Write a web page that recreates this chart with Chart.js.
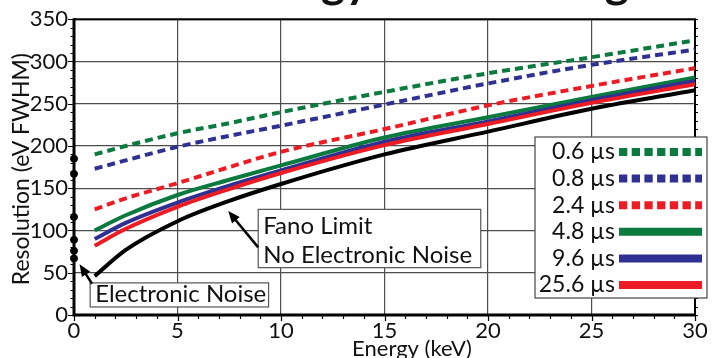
<!DOCTYPE html>
<html>
<head>
<meta charset="utf-8">
<script src="https://cdn.jsdelivr.net/npm/chart.js@4.4.1/dist/chart.umd.min.js"></script>
<style>
  html, body { margin: 0; padding: 0; background: #fff; overflow: hidden; }
  #wrap { width: 715px; height: 358px; }
</style>
</head>
<body>
<div id="wrap"><canvas id="chart" width="715" height="358"></canvas></div>
<script>
const energyKeV = [1, 2.5, 5, 7.5, 10, 15, 20, 25, 30];

// resolution (eV FWHM) per peaking time
const res06 = [190, 200, 215, 227, 240, 264, 286, 305, 325];
const res08 = [173, 183, 199, 212, 224, 249, 274, 296, 314];
const res24 = [125, 138, 156, 175, 193, 220, 248, 271, 292];
const res48 = [100, 118, 142, 160, 177, 210, 234, 258, 281];
const res96 = [90, 109, 133, 153, 171, 205, 229, 254, 277];
const res256 = [82, 102, 128, 149, 168, 201, 226, 251, 273];
const fanoLimit = [46, 77, 111, 135, 155, 190, 217, 244, 266];

// electronic noise points drawn on the y axis
const noiseLevels = [185, 167, 116, 89, 76, 67];

const seriesLabels = ['0.6 µs', '0.8 µs', '2.4 µs', '4.8 µs', '9.6 µs', '25.6 µs'];
const seriesColors = ['#0b7a3e', '#2e3192', '#ed1c24', '#0b7a3e', '#2e3192', '#ed1c24'];
const seriesDotted = [true, true, true, false, false, false];

const xTicks = [0, 5, 10, 15, 20, 25, 30];
const yTicks = [0, 50, 100, 150, 200, 250, 300, 350];

const FONT = 'Lato, "Noto Sans", sans-serif';

function pts(ys) {
  return energyKeV.map((e, i) => ({x: e, y: ys[i]}));
}

const seriesData = [res06, res08, res24, res48, res96, res256];

const datasets = seriesData.map((ys, i) => ({
  label: seriesLabels[i],
  data: pts(ys),
  borderColor: seriesColors[i],
  borderWidth: 4,
  borderDash: seriesDotted[i] ? [8, 5] : [],
  borderCapStyle: 'butt',
  pointRadius: 0,
  fill: false,
  cubicInterpolationMode: 'monotone',
  order: 10 - i
}));

datasets.push({
  label: 'Fano Limit',
  data: pts(fanoLimit),
  borderColor: '#000',
  borderWidth: 4,
  pointRadius: 0,
  fill: false,
  cubicInterpolationMode: 'monotone',
  order: 1
});

datasets.push({
  label: 'Electronic Noise',
  type: 'scatter',
  data: noiseLevels.map(v => ({x: 0, y: v})),
  backgroundColor: '#000',
  borderColor: '#000',
  pointRadius: 3.5,
  showLine: false,
  clip: false,
  order: 0
});

// text boxes and arrows, in data units
const fanoBox = {x0: 8.9, x1: 19.65, y0: 125, y1: 56, lines: ['Fano Limit', 'No Electronic Noise']};
const noiseBox = {x0: 0.78, x1: 9.4, y0: 38, y1: 9.5, lines: ['Electronic Noise']};
const fanoArrow = {from: {x: 8.9, y: 80}, to: {x: 7.45, y: 123}};
const noiseArrow = {from: {x: 0.87, y: 37}, to: {x: 0.27, y: 60}};

function arrow(ctx, x0, y0, x1, y1) {
  const ang = Math.atan2(y1 - y0, x1 - x0);
  const len = 12, w = 5;
  ctx.save();
  ctx.strokeStyle = '#000';
  ctx.fillStyle = '#000';
  ctx.lineWidth = 2.5;
  ctx.beginPath();
  ctx.moveTo(x0, y0);
  ctx.lineTo(x1 - Math.cos(ang) * len * 0.8, y1 - Math.sin(ang) * len * 0.8);
  ctx.stroke();
  ctx.beginPath();
  ctx.moveTo(x1, y1);
  ctx.lineTo(x1 - Math.cos(ang) * len + Math.sin(ang) * w, y1 - Math.sin(ang) * len - Math.cos(ang) * w);
  ctx.lineTo(x1 - Math.cos(ang) * len - Math.sin(ang) * w, y1 - Math.sin(ang) * len + Math.cos(ang) * w);
  ctx.closePath();
  ctx.fill();
  ctx.restore();
}

function textBox(ctx, sx, sy, b, size) {
  const l = sx.getPixelForValue(b.x0), r = sx.getPixelForValue(b.x1);
  const t = sy.getPixelForValue(b.y0), bt = sy.getPixelForValue(b.y1);
  ctx.save();
  ctx.fillStyle = '#fff';
  ctx.fillRect(l, t, r - l, bt - t);
  ctx.strokeStyle = '#555';
  ctx.lineWidth = 1.2;
  ctx.strokeRect(l, t, r - l, bt - t);
  ctx.fillStyle = '#111';
  ctx.font = size + 'px ' + FONT;
  ctx.textAlign = 'left';
  ctx.textBaseline = 'alphabetic';
  const step = (bt - t) / b.lines.length;
  b.lines.forEach((s, i) => ctx.fillText(s, l + 5, t + step * (i + 1) - 5));
  ctx.restore();
}

const frame = {
  id: 'frame',
  beforeDatasetsDraw(chart) {
    const {ctx, chartArea: a, scales: {x, y}} = chart;
    ctx.save();
    ctx.strokeStyle = '#000';
    // ticks
    ctx.lineWidth = 1.2;
    for (let v = 0; v <= 350; v += 10) {
      const py = Math.round(y.getPixelForValue(v)) + 0.5;
      const len = v % 50 === 0 ? 6 : 3.5;
      ctx.beginPath();
      ctx.moveTo(a.left - len, py); ctx.lineTo(a.left, py);
      ctx.moveTo(a.right, py); ctx.lineTo(a.right + 3, py);
      ctx.stroke();
    }
    for (let v = 0; v <= 30; v += 1) {
      const px = Math.round(x.getPixelForValue(v)) + 0.5;
      const len = v % 5 === 0 ? 6 : 4;
      ctx.beginPath();
      ctx.moveTo(px, a.bottom); ctx.lineTo(px, a.bottom + len);
      ctx.stroke();
    }
    // border
    ctx.lineWidth = 2;
    ctx.beginPath();
    ctx.moveTo(a.left, a.top); ctx.lineTo(a.right, a.top); ctx.lineTo(a.right, a.bottom);
    ctx.stroke();
    ctx.lineWidth = 3;
    ctx.beginPath();
    ctx.moveTo(a.left, a.top - 1); ctx.lineTo(a.left, a.bottom); ctx.lineTo(a.right + 1, a.bottom);
    ctx.stroke();
    ctx.restore();
  },
  afterDatasetsDraw(chart) {
    const {ctx, chartArea: a, scales: {x, y}} = chart;

    textBox(ctx, x, y, fanoBox, 24);
    textBox(ctx, x, y, noiseBox, 24);
    arrow(ctx, x.getPixelForValue(fanoArrow.from.x), y.getPixelForValue(fanoArrow.from.y),
      x.getPixelForValue(fanoArrow.to.x), y.getPixelForValue(fanoArrow.to.y));
    arrow(ctx, x.getPixelForValue(noiseArrow.from.x), y.getPixelForValue(noiseArrow.from.y),
      x.getPixelForValue(noiseArrow.to.x), y.getPixelForValue(noiseArrow.to.y));

    // legend
    ctx.save();
    const lx = 535, ly = 137, lw = 172, lh = 161;
    ctx.fillStyle = '#fff';
    ctx.fillRect(lx, ly, lw, lh);
    ctx.strokeStyle = '#444';
    ctx.lineWidth = 1.2;
    ctx.strokeRect(lx, ly, lw, lh);
    ctx.font = '23px ' + FONT;
    ctx.textAlign = 'right';
    ctx.textBaseline = 'middle';
    seriesLabels.forEach((lab, i) => {
      const cy = ly + 15 + i * 26.6;
      ctx.fillStyle = '#111';
      ctx.fillText(lab, 615, cy);
      ctx.strokeStyle = seriesColors[i];
      ctx.lineWidth = 8;
      ctx.lineCap = 'butt';
      ctx.setLineDash(seriesDotted[i] ? [8.3, 4.4] : []);
      ctx.beginPath();
      ctx.moveTo(619, cy); ctx.lineTo(702, cy);
      ctx.stroke();
    });
    ctx.setLineDash([]);

    // axis titles
    ctx.fillStyle = '#111';
    ctx.font = '22px ' + FONT;
    ctx.textAlign = 'center';
    ctx.textBaseline = 'alphabetic';
    ctx.fillText('Energy (keV)', 412, 356);
    ctx.save();
    ctx.translate(29, (a.top + a.bottom) / 2 + 2);
    ctx.rotate(-Math.PI / 2);
    ctx.font = '23px ' + FONT;
    ctx.fillText('Resolution (eV FWHM)', 0, 0);
    ctx.restore();

    // chart title, mostly above the canvas
    ctx.font = 'bold 46px ' + FONT;
    ctx.fillText('vs. Energy and Peaking Time', 452, -3);
    ctx.restore();
  }
};

const ctx = document.getElementById('chart').getContext('2d');
const chart = new Chart(ctx, {
  type: 'line',
  data: {datasets: datasets},
  options: {
    responsive: false,
    animation: false,
    devicePixelRatio: 1,
    layout: {padding: {top: 15, right: 20, left: 0, bottom: 0}},
    plugins: {legend: {display: false}, tooltip: {enabled: false}},
    scales: {
      x: {
        type: 'linear',
        min: 0, max: 30,
        afterFit: s => { s.height = 43; },
        afterBuildTicks: s => { s.ticks = xTicks.map(v => ({value: v})); },
        ticks: {font: {family: FONT, size: 22}, color: '#111', padding: 3, maxRotation: 0, autoSkip: false},
        grid: {color: '#4d4d4d', lineWidth: 1.2, drawTicks: false},
        border: {display: false}
      },
      y: {
        type: 'linear',
        min: 0, max: 350,
        afterFit: s => { s.width = 74; },
        afterBuildTicks: s => { s.ticks = yTicks.map(v => ({value: v})); },
        ticks: {font: {family: FONT, size: 22}, color: '#111', padding: 6, autoSkip: false},
        grid: {color: '#4d4d4d', lineWidth: 1.2, drawTicks: false},
        border: {display: false}
      }
    }
  },
  plugins: [frame]
});
</script>
</body>
</html>
